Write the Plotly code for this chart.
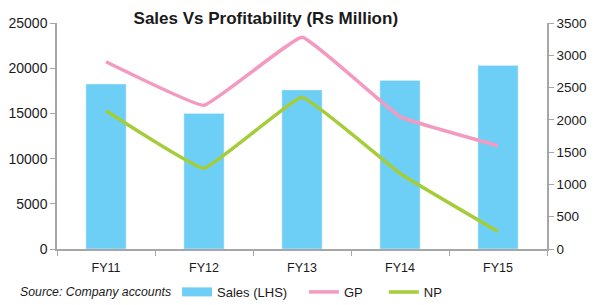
import plotly.graph_objects as go

categories = ["FY11", "FY12", "FY13", "FY14", "FY15"]
sales = [18250, 15000, 17600, 18650, 20300]
gp = [2900, 2225, 3280, 2050, 1600]
np_ = [2140, 1250, 2350, 1170, 270]

FONT = "Liberation Sans, Arial, sans-serif"
SALES_C, GP_C, NP_C = "#6DCFF6", "#F49AC1", "#A5CD39"

fig = go.Figure()
fig.add_trace(go.Bar(x=categories, y=sales, name="Sales (LHS)", marker_color=SALES_C,
                     width=0.41, yaxis="y", showlegend=False))
# legend-only entry so the Sales key is drawn as a wide block like the original
fig.add_trace(go.Scatter(x=[None], y=[None], name="Sales (LHS)", mode="lines",
                         line=dict(color=SALES_C, width=9), yaxis="y", legend="legend"))
fig.add_trace(go.Scatter(x=categories, y=gp, name="GP", mode="lines",
                         line=dict(color=GP_C, width=3.5, shape="spline", smoothing=0.25),
                         yaxis="y2", legend="legend2"))
fig.add_trace(go.Scatter(x=categories, y=np_, name="NP", mode="lines",
                         line=dict(color=NP_C, width=3.5, shape="spline", smoothing=0.25),
                         yaxis="y2", legend="legend3"))

def axis(size):
    return dict(showgrid=False, zeroline=False, showline=True, linecolor="#A6A6A6",
                linewidth=1.5, ticks="outside", ticklen=5, tickcolor="#A6A6A6",
                tickfont=dict(family=FONT, size=size, color="#1a1a1a"))

leg_common = dict(orientation="h", yanchor="middle", y=-0.19, xanchor="left",
                  font=dict(family=FONT, size=13, color="#1a1a1a"),
                  bgcolor="rgba(0,0,0,0)")

fig.update_layout(
    width=600, height=305,
    margin=dict(l=57, r=53, t=23, b=56, autoexpand=False),
    paper_bgcolor="white", plot_bgcolor="white",
    title=dict(text="<b>Sales Vs Profitability (Rs Million)</b>", x=0.443, xanchor="center",
               y=0.94, yanchor="middle",
               font=dict(family=FONT, size=17, color="#1a1a1a")),
    xaxis=dict(**axis(12.5), tickson="boundaries", type="category", ticklabelstandoff=6),
    yaxis=dict(**axis(14), range=[0, 25000], dtick=5000, tickformat="d"),
    yaxis2=dict(**axis(13.5), range=[0, 3500], dtick=500, overlaying="y", side="right",
                tickformat="d"),
    legend=dict(**leg_common, x=0.245),
    legend2=dict(**leg_common, x=0.504),
    legend3=dict(**leg_common, x=0.667),
    showlegend=True,
)
fig.add_annotation(text="<i>Source: Company accounts</i>", xref="paper", yref="paper",
                   x=-0.0796, y=-0.19, xanchor="left", yanchor="middle", showarrow=False,
                   font=dict(family=FONT, size=12.3, color="#1a1a1a"))

fig.write_html("out.html")
